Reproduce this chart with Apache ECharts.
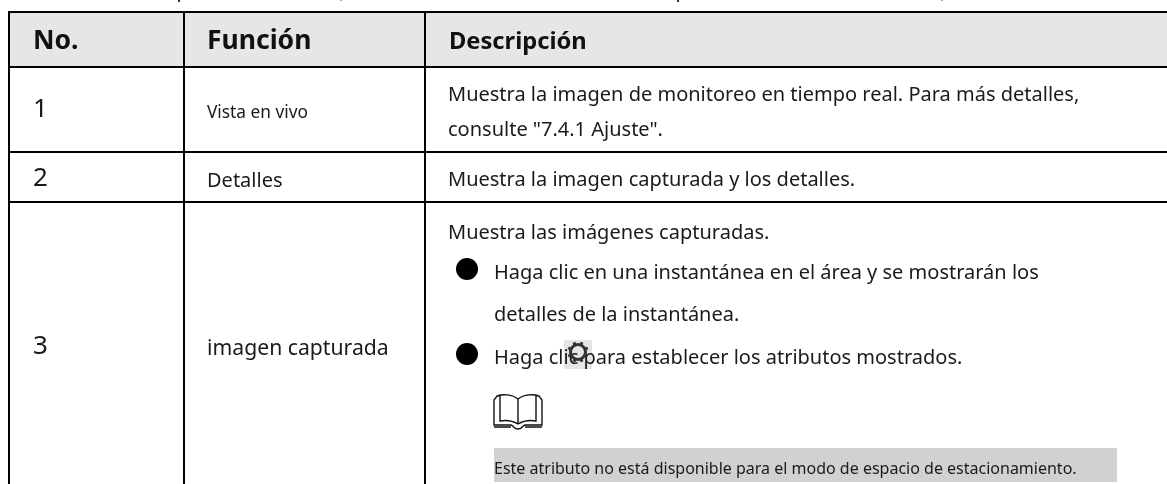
<!DOCTYPE html>
<html><head><meta charset="utf-8">
<style>html,body{margin:0;padding:0;background:#fff}#c{width:1167px;height:484px}</style>
<script src="https://cdn.jsdelivr.net/npm/echarts@6/dist/echarts.min.js"></script>
</head><body><div id="c"></div>
<script>
var headers = ["No.", "Función", "Descripción"];
var rowNumbers = ["1", "2", "3"];
var functions = ["Vista en vivo", "Detalles", "imagen capturada"];
var descriptions = [
  "Muestra la imagen de monitoreo en tiempo real. Para más detalles,",
  "consulte \"7.4.1 Ajuste\".",
  "Muestra la imagen capturada y los detalles.",
  "Muestra las imágenes capturadas.",
  "Haga clic en una instantánea en el área y se mostrarán los",
  "detalles de la instantánea.",
  "Haga clic para establecer los atributos mostrados."
];
var note = ["Este atributo no está disponible para el modo de espacio de estacionamiento."];

// layout (separate from the content above)
var colEdges = [9, 184, 425];
var rowEdges = [12, 67, 152, 202];
var W = 1167, H = 484, INK = "#1a1a1a";
var textLayout = [
  [headers[0], 33, 41, 26.5, 700], [headers[1], 207, 41, 26.5, 700], [headers[2], 449, 42, 23.7, 700],
  [rowNumbers[0], 33, 110, 26, 400], [rowNumbers[1], 33, 179, 26, 400], [rowNumbers[2], 33, 347, 26, 400],
  [functions[0], 207, 113, 17.3, 400], [functions[1], 207, 181, 20, 400], [functions[2], 207, 349, 21.2, 400],
  [descriptions[0], 448, 95, 20, 400], [descriptions[1], 448, 130, 20, 400],
  [descriptions[2], 448, 180, 20, 400], [descriptions[3], 448, 233, 20, 400],
  [descriptions[4], 494, 273, 20, 400], [descriptions[5], 494, 315, 20, 400],
  [descriptions[6], 494, 358, 20, 400], [note[0], 494, 469, 16, 400]
];
var bullets = [[467, 269], [467, 354]];

function P(api, x, y) { return api.coord([x, y]); }
function rect(api, x0, y0, x1, y1, fill) {
  var a = P(api, x0, y0), b = P(api, x1, y1);
  return { type: "rect", shape: { x: a[0], y: a[1], width: b[0] - a[0], height: b[1] - a[1] }, style: { fill: fill } };
}
function line(api, x0, y0, x1, y1, w, c) {
  var a = P(api, x0, y0), b = P(api, x1, y1);
  return { type: "line", shape: { x1: a[0], y1: a[1], x2: b[0], y2: b[1] }, style: { stroke: c || "#000", lineWidth: w, fill: null } };
}

function drawFrame(params, api) {
  var ch = [];
  ch.push(rect(api, colEdges[0], rowEdges[0], W, rowEdges[1], "#e6e6e6"));
  ch.push(rect(api, 494, 448, 1117, 482, "#d1d1d1"));
  rowEdges.forEach(function (y) { ch.push(line(api, colEdges[0] - 1, y, W, y, 2)); });
  colEdges.forEach(function (x) { ch.push(line(api, x, rowEdges[0], x, H, 2)); });
  [[178, 2, "#333"], [340, 1, "#aaa"], [677, 2, "#333"], [941, 1, "#aaa"]].forEach(function (m) {
    ch.push(rect(api, m[0], 0, m[0] + 2, m[1], m[2]));
  });
  return { type: "group", children: ch };
}
function drawText(params, api) {
  var d = textLayout[params.dataIndex], p = P(api, d[1], d[2]);
  return { type: "text", style: { x: p[0], y: p[1], text: d[0], fill: d[4] === 700 ? "#111" : INK, verticalAlign: "middle", align: "left",
    font: d[4] + " " + d[3] + "px 'Noto Sans'" } };
}
function drawBullet(params, api) {
  var b = bullets[params.dataIndex], p = P(api, b[0], b[1]);
  return { type: "circle", shape: { cx: p[0], cy: p[1], r: 11 }, style: { fill: "#000" } };
}
function drawIcons(params, api) {
  var ch = [];
  var c = P(api, 578, 352);
  ch.push(rect(api, 564, 340, 592, 369, "rgba(0,0,0,0.1)"));
  ch.push({ type: "circle", shape: { cx: c[0], cy: c[1], r: 7.5 }, style: { fill: "none", stroke: "#333", lineWidth: 3 } });
  for (var i = 0; i < 8; i++) {
    var t = i * Math.PI / 4 + Math.PI / 8;
    ch.push({ type: "line", shape: { x1: c[0] + Math.cos(t) * 8, y1: c[1] + Math.sin(t) * 8, x2: c[0] + Math.cos(t) * 10.5, y2: c[1] + Math.sin(t) * 10.5 }, style: { stroke: "#333", lineWidth: 3 } });
  }
  // open book icon
  var s = { stroke: "#111", lineWidth: 1.4, fill: "none" };
  var o = P(api, 494, 394);
  ch.push({ type: "path", position: o, style: s, shape: { pathData:
    "M24 5C18 0 8 0 3 2L0 6V31H17C20 32 20 35 24 35C28 35 28 32 31 31H48V6L45 2C40 0 30 0 24 5Z" +
    "M24 5V30M6 1V27C12 26 19 27 24 30C29 27 36 26 42 27V1M0 33H17M31 33H48" } });
  return { type: "group", children: ch };
}

var chart = echarts.init(document.getElementById("c"), null, { renderer: "canvas" });
chart.setOption({
  animation: false, backgroundColor: "#fff",
  grid: { left: 0, right: 0, top: 0, bottom: 0 },
  xAxis: { type: "value", min: 0, max: W, show: false },
  yAxis: { type: "value", min: 0, max: H, inverse: true, show: false },
  series: [
    { type: "custom", renderItem: drawFrame, data: [[0, 0]], silent: true, z: 1, clip: false },
    { type: "custom", renderItem: drawBullet, data: bullets, silent: true, z: 2 },
    { type: "custom", renderItem: drawText, data: textLayout.map(function (d) { return [d[1], d[2]]; }), silent: true, z: 3 },
    { type: "custom", renderItem: drawIcons, data: [[0, 0]], silent: true, z: 4 }
  ]
});
</script></body></html>
